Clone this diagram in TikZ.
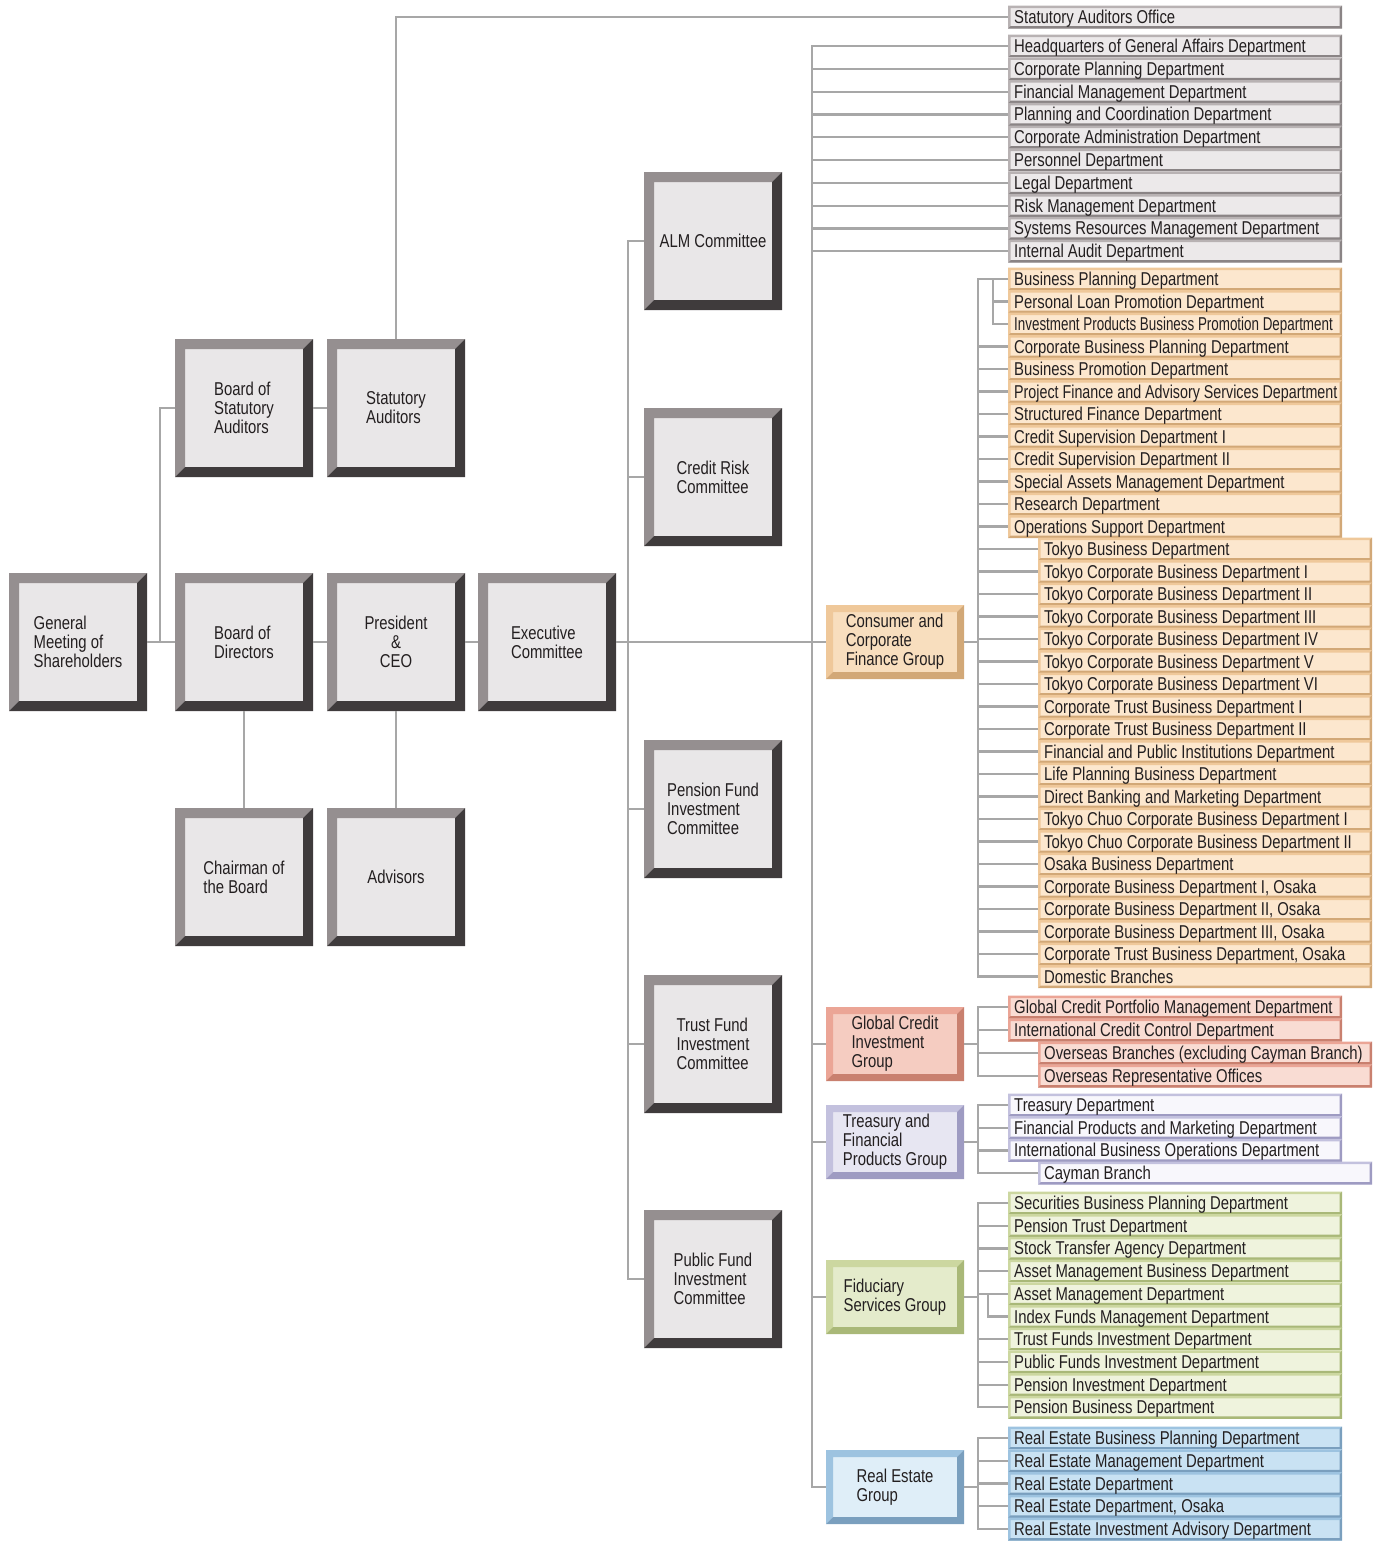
\documentclass[tikz,border=0pt]{standalone}
\usepackage{fontspec}
\setmainfont{Liberation Sans}[FakeStretch=0.8]
\usepackage{graphicx}
\usepackage{tikz}
\usepackage{xcolor}
\definecolor{ink}{HTML}{231F20}
\definecolor{linkgray}{HTML}{A7A7A7}
\definecolor{boxface}{HTML}{E9E7E8}
\definecolor{boxlite}{HTML}{958F90}
\definecolor{boxdark}{HTML}{3F3B3C}
\definecolor{gfill}{HTML}{ECE9EA}\definecolor{glite}{HTML}{B8B2B3}\definecolor{gdark}{HTML}{8A8485}
\definecolor{ofill}{HTML}{FCE7CE}\definecolor{olite}{HTML}{EFC89A}\definecolor{odark}{HTML}{D2A877}
\definecolor{rfill}{HTML}{F9DCD3}\definecolor{rlite}{HTML}{EBA596}\definecolor{rdark}{HTML}{C9806F}
\definecolor{pfill}{HTML}{F8F7FC}\definecolor{plite}{HTML}{C3C1DE}\definecolor{pdark}{HTML}{9E9BC2}
\definecolor{ffill}{HTML}{EFF3DD}\definecolor{flite}{HTML}{CCD7A0}\definecolor{fdark}{HTML}{A9B878}
\definecolor{efill}{HTML}{C9E2F3}\definecolor{elite}{HTML}{9DC3E0}\definecolor{edark}{HTML}{7A9FBE}
\newcommand{\dtext}[1]{\hbox to 322pt{#1\hfil}}

\begin{document}
\begin{tikzpicture}[x=1pt, y=-1pt, font=\fontsize{18.6}{19}\selectfont, text=ink,
  link/.style={draw=linkgray, line width=2.2pt},
  bevel/.style n args={3}{path picture={
    \fill[#2] (path picture bounding box.south west) |- (path picture bounding box.north east)
      -- ++(-#1pt,-#1pt) -| ([shift={(#1pt,#1pt)}]path picture bounding box.south west) -- cycle;
    \fill[#3] (path picture bounding box.south west) -| (path picture bounding box.north east)
      -- ++(-#1pt,-#1pt) |- ([shift={(#1pt,#1pt)}]path picture bounding box.south west) -- cycle;
  }},
  board/.style={minimum width=138pt, minimum height=138pt, align=left, inner sep=0pt,
    fill=boxface, bevel={10}{boxlite}{boxdark}},
  grp/.style={minimum width=138pt, minimum height=74pt, align=left, inner sep=0pt},
  dept/.style={anchor=west, minimum width=334pt, minimum height=23pt, inner xsep=6pt, inner ysep=0pt,
    text height=13pt, text depth=0pt},
  gdept/.style={dept, fill=gfill, bevel={2.5}{glite}{gdark}},
  odept/.style={dept, fill=ofill, bevel={2.5}{olite}{odark}},
  rdept/.style={dept, fill=rfill, bevel={2.5}{rlite}{rdark}},
  pdept/.style={dept, fill=pfill, bevel={2.5}{plite}{pdark}},
  fdept/.style={dept, fill=ffill, bevel={2.5}{flite}{fdark}},
  edept/.style={dept, fill=efill, bevel={2.5}{elite}{edark}},
]
\useasboundingbox (0,0) rectangle (1382,1542);

\node[board] (gms) at (78,642) {General\\Meeting of\\Shareholders};
\node[board] (bsa) at (244,408) {Board of\\Statutory\\Auditors};
\node[board] (sa) at (396,408) {Statutory\\Auditors};
\node[board] (bod) at (244,642) {Board of\\Directors};
\node[board, align=center] (ceo) at (396,642) {President\\\&\\CEO};
\node[board] (exc) at (547,642) {Executive\\Committee};
\node[board] (chair) at (244,877) {Chairman of\\the Board};
\node[board] (adv) at (396,877) {Advisors};
\node[board] (alm) at (713,241) {ALM Committee};
\node[board] (crc) at (713,477) {Credit Risk\\Committee};
\node[board] (pfc) at (713,809) {Pension Fund\\Investment\\Committee};
\node[board] (tfc) at (713,1044) {Trust Fund\\Investment\\Committee};
\node[board] (pubc) at (713,1279) {Public Fund\\Investment\\Committee};

\node[grp, fill=ofill!70!olite, bevel={7}{olite}{odark}] (ccfg) at (895,642) {Consumer and\\Corporate\\Finance Group};
\node[grp, fill=rfill!70!rlite, bevel={7}{rlite}{rdark}] (gcig) at (895,1044) {Global Credit\\Investment\\Group};
\node[grp, fill=plite!40, bevel={7}{plite}{pdark}] (tfpg) at (895,1142) {Treasury and\\Financial\\Products Group};
\node[grp, fill=ffill!70!flite, bevel={7}{flite}{fdark}] (fsg) at (895,1297) {Fiduciary\\Services Group};
\node[grp, fill=efill!60, bevel={7}{elite}{edark}] (reg) at (895,1487) {Real Estate\\Group};

\node[gdept] (sao) at (1008,17) {\dtext{Statutory Auditors Office}};
\foreach \t [count=\i] in {Headquarters of General Affairs Department, Corporate Planning Department,
  Financial Management Department, Planning and Coordination Department, Corporate Administration Department,
  Personnel Department, Legal Department, Risk Management Department,
  Systems Resources Management Department, Internal Audit Department}
  \node[gdept] (hq\i) at (1008,23.2+22.8*\i) {\dtext{\t}};
\foreach \t [count=\i] in {Business Planning Department, Personal Loan Promotion Department,
  {\scalebox{0.9}[1]{Investment Products Business Promotion Department}}, Corporate Business Planning Department,
  Business Promotion Department, {\scalebox{0.96}[1]{Project Finance and Advisory Services Department}},
  Structured Finance Department, Credit Supervision Department I, Credit Supervision Department II,
  Special Assets Management Department, Research Department, Operations Support Department}
  \node[odept] (cc\i) at (1008,256.5+22.5*\i) {\dtext{\t}};
\foreach \t [count=\i] in {Tokyo Business Department, Tokyo Corporate Business Department I,
  Tokyo Corporate Business Department II, Tokyo Corporate Business Department III,
  Tokyo Corporate Business Department IV, Tokyo Corporate Business Department V,
  Tokyo Corporate Business Department VI, Corporate Trust Business Department I,
  Corporate Trust Business Department II, Financial and Public Institutions Department,
  Life Planning Business Department, Direct Banking and Marketing Department,
  Tokyo Chuo Corporate Business Department I, Tokyo Chuo Corporate Business Department II,
  Osaka Business Department, {Corporate Business Department I, Osaka},
  {Corporate Business Department II, Osaka}, {Corporate Business Department III, Osaka},
  {Corporate Trust Business Department, Osaka}, Domestic Branches}
  \node[odept] (br\i) at (1038,526.5+22.5*\i) {\dtext{\t}};
\foreach \t/\x [count=\i] in {Global Credit Portfolio Management Department/1008,
  International Credit Control Department/1008, Overseas Branches (excluding Cayman Branch)/1038,
  Overseas Representative Offices/1038}
  \node[rdept] (gc\i) at (\x,984+23*\i) {\dtext{\t}};
\foreach \t/\x [count=\i] in {Treasury Department/1008, Financial Products and Marketing Department/1008,
  International Business Operations Department/1008, Cayman Branch/1038}
  \node[pdept] (tf\i) at (\x,1082.3+22.7*\i) {\dtext{\t}};
\foreach \t [count=\i] in {Securities Business Planning Department, Pension Trust Department,
  Stock Transfer Agency Department, Asset Management Business Department, Asset Management Department,
  Index Funds Management Department, Trust Funds Investment Department, Public Funds Investment Department,
  Pension Investment Department, Pension Business Department}
  \node[fdept] (fs\i) at (1008,1180.3+22.7*\i) {\dtext{\t}};
\foreach \t [count=\i] in {Real Estate Business Planning Department, Real Estate Management Department,
  Real Estate Department, {Real Estate Department, Osaka}, Real Estate Investment Advisory Department}
  \node[edept] (re\i) at (1008,1415.25+22.75*\i) {\dtext{\t}};

\coordinate (gbus) at (160,642);
\coordinate (cbus) at (628,642);
\coordinate (dbus) at (812,642);
\coordinate (ccbus) at (978,642);
\coordinate (ccsub) at (993,279);
\coordinate (gcbus) at (978,1044);
\coordinate (tfbus) at (978,1142);
\coordinate (fsbus) at (978,1297);
\coordinate (fssub) at (988,1293.8);
\coordinate (rebus) at (978,1487);

\draw[link] (gms) -- (bod);
\draw[link] (gbus) |- (bsa);
\draw[link] (bsa) -- (sa);
\draw[link] (sa) |- (sao);
\draw[link] (bod) -- (ceo);
\draw[link] (ceo) -- (exc);
\draw[link] (bod) -- (chair);
\draw[link] (ceo) -- (adv);
\draw[link] (exc) -- (ccfg);
\foreach \n in {alm,crc,pfc,tfc,pubc} \draw[link] (\n) -| (cbus);
\foreach \i in {1,...,10} \draw[link] (hq\i) -| (dbus);
\foreach \n in {gcig,tfpg,fsg,reg} \draw[link] (\n) -| (dbus);
\draw[link] (ccfg) -- (ccbus);
\draw[link] (cc1) -| (ccbus);
\draw[link] (cc2) -| (ccsub);
\draw[link] (cc3) -| (ccsub);
\foreach \i in {4,...,12} \draw[link] (cc\i) -| (ccbus);
\foreach \i in {1,...,20} \draw[link] (br\i) -| (ccbus);
\draw[link] (gcig) -- (gcbus);
\foreach \i in {1,...,4} \draw[link] (gc\i) -| (gcbus);
\draw[link] (tfpg) -- (tfbus);
\foreach \i in {1,...,4} \draw[link] (tf\i) -| (tfbus);
\draw[link] (fsg) -- (fsbus);
\foreach \i in {1,2,3,4,5,7,8,9,10} \draw[link] (fs\i) -| (fsbus);
\draw[link] (fs6) -| (fssub);
\draw[link] (reg) -- (rebus);
\foreach \i in {1,...,5} \draw[link] (re\i) -| (rebus);
\end{tikzpicture}
\end{document}
